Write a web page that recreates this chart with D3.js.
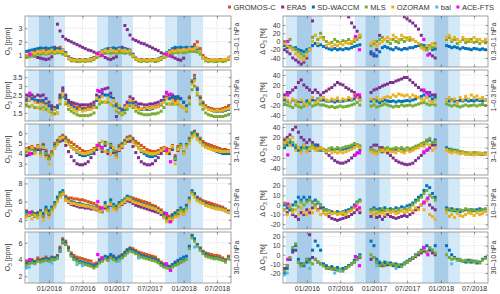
<!DOCTYPE html>
<html>
<head>
<meta charset="utf-8">
<script src="https://cdn.jsdelivr.net/npm/d3@7"></script>
<style>
  body { margin: 0; background: #fff; }
  text { font-family: "Liberation Sans", Arial, sans-serif; }
</style>
</head>
<body>
<div id="chart"></div>
<script>
const X = null;

// series shown in the legend
const seriesNames = ['GROMOS-C', 'ERA5', 'SD-WACCM', 'MLS', 'OZORAM', 'bal', 'ACE-FTS'];
const seriesColors = ['#D95319', '#7E2F8E', '#0072BD', '#77AC30', '#EDB120', '#4DBEEE', '#FF00FF'];

const levelLabels = ['0.3\u20130.1 hPa', '1\u20130.3 hPa', '3\u20131 hPa', '10\u20133 hPa', '30\u201310 hPa'];

// winter periods: light start, dark start, dark end, light end
const winters = [
  ['2015-09-09', '2015-11-08', '2016-01-28', '2016-03-28'],
  ['2016-09-18', '2016-11-16', '2017-01-31', '2017-04-01'],
  ['2017-09-22', '2017-11-26', '2018-02-10', '2018-04-16']
];

// values every half month (1st and 16th), Sep 2015 .. Sep 2018 -> 73 values

// ---------- O3 [ppm] ----------
// 0.3-0.1 hPa
const gromos1 = [1.0,1.1,1.2,1.3,1.4,1.3,1.5,1.4, 1.4,1.5,1.4,1.5,1.6,1.4,
  1.2,0.9,0.75,0.7,0.7,0.65,0.7,0.7,0.7,0.75,0.8, 1.0,1.1,1.3,X,X,X,1.5, 1.4,1.5,1.4,1.5,1.4,1.3,
  1.0,0.8,0.7,0.7,0.65,0.7,0.7,0.65,0.7,0.7,0.8, 0.9,1.1,1.2,1.4,1.5,1.4,X,X,X,
  1.5,1.6,1.8,2.0,1.5,1.0,0.8,0.7,0.7, 0.65,0.65,0.7,0.7,0.7,0.8];
const era5_1 = [0.95,1.0,1.0,0.95,0.85,0.8,0.75,0.7, 0.75,0.9,1.6,3.3,2.8,2.4,
  2.2,2.1,2.0,1.9,1.8,1.7,1.6,1.5,1.4,1.35,1.25, 1.15,1.05,1.0,0.85,0.75,0.7,0.8, 0.9,1.3,1.6,3.2,2.9,2.5,
  2.2,2.1,2.0,1.9,1.85,1.75,1.65,1.55,1.45,1.35,1.2, 1.1,1.0,1.0,0.9,0.8,0.7,0.65,0.8,X,
  X,X,X,X,X,X,X,X,X, X,X,X,X,X,X];
const waccm1 = [1.3,1.35,1.4,1.45,1.5,1.55,1.5,1.55, 1.5,1.55,1.5,1.5,1.45,1.4,
  1.2,0.85,0.75,0.7,0.7,0.7,0.7,0.7,0.7,0.75,0.85, 1.0,1.2,1.35,1.45,1.5,1.5,1.55, 1.5,1.55,1.5,1.5,1.45,1.4,
  1.1,0.8,0.7,0.7,0.7,0.7,0.7,0.7,0.7,0.75,0.85, 1.0,1.2,1.35,1.5,1.6,1.55,1.6,1.55,1.6,
  1.55,1.6,1.55,1.5,1.3,0.85,0.7,0.65,0.65, 0.65,0.65,0.65,0.65,0.7,0.75];
const mls1 = [0.85,0.9,0.95,1.0,1.1,1.1,1.15,1.1, 1.15,1.2,1.15,1.2,1.2,1.1,
  1.0,0.75,0.6,0.6,0.55,0.55,0.6,0.55,0.6,0.6,0.7, 0.85,0.95,1.05,1.15,1.2,1.15,1.2, 1.15,1.2,1.2,1.15,1.2,1.1,
  0.9,0.7,0.6,0.55,0.6,0.55,0.6,0.6,0.55,0.6,0.7, 0.85,0.95,1.05,1.15,1.2,1.2,1.25,1.2,1.25,
  1.3,1.3,1.3,1.25,1.1,0.8,0.6,0.55,0.6, 0.55,0.55,0.6,0.55,0.6,0.7];
const oram1 = [1.0,1.1,1.2,1.15,1.3,1.25,1.35,1.2, 1.3,1.4,1.25,1.35,1.3,1.4,
  1.1,0.8,0.7,0.65,0.7,0.65,0.7,0.65,0.7,0.7,0.8, 1.0,1.15,1.3,1.4,1.3,1.45,1.35, 1.3,1.45,1.35,1.4,1.3,1.35,
  1.0,0.75,0.7,0.65,0.7,0.65,0.7,0.65,0.7,0.7,0.8, 0.95,1.15,1.25,1.35,1.3,1.4,1.35,1.45,1.4,
  1.5,1.45,1.5,1.6,1.3,0.85,0.7,0.65,0.7, 0.65,0.7,0.65,0.7,0.7,0.8];

// 1-0.3 hPa
const gromos2 = [2.3,2.2,2.3,2.2,2.1,2.2,2.1,2.0, 1.9,1.8,1.7,1.8,2.4,2.8,
  2.4,2.1,2.0,1.9,1.8,1.8,1.75,1.75,1.8,1.85,1.95, 2.2,2.4,2.5,X,X,X,2.3, 2.0,1.8,1.7,1.8,2.0,2.2,
  2.1,1.9,1.8,1.75,1.75,1.75,1.8,1.8,1.85,1.9,2.0, 2.2,2.4,2.3,2.3,2.2,2.3,X,X,X,
  2.4,3.3,3.6,2.9,2.4,2.1,1.9,1.8,1.75, 1.7,1.7,1.7,1.75,1.8,1.9];
const era5_2 = [2.5,2.45,2.5,2.4,2.5,2.45,2.5,2.3, 2.1,1.9,1.8,1.9,2.5,2.9,
  2.5,2.2,2.1,2.05,2.0,1.95,1.95,1.95,1.95,2.0,2.1, 2.5,2.7,2.8,2.85,2.9,2.6,2.2, 1.3,1.8,1.7,1.9,2.1,2.4,
  2.3,2.1,2.0,2.0,1.95,1.95,2.0,2.0,2.05,2.1,2.2, 2.4,2.6,2.5,2.5,2.4,2.4,2.3,2.1,X,
  X,X,X,X,X,X,X,X,X, X,X,X,X,X,X];
const waccm2 = [2.2,2.2,2.3,2.2,2.2,2.1,2.2,2.0, 1.9,1.7,1.7,1.8,2.3,2.7,
  2.3,2.0,1.9,1.8,1.7,1.7,1.7,1.7,1.7,1.75,1.85, 2.2,2.4,2.6,2.5,2.5,2.4,2.3, 1.9,1.8,1.6,1.7,1.9,2.1,
  2.0,1.85,1.75,1.7,1.7,1.7,1.7,1.75,1.8,1.85,1.95, 2.2,2.3,2.3,2.4,2.3,2.4,2.3,2.1,1.9,
  2.3,3.2,3.4,2.8,2.3,2.0,1.8,1.7,1.65, 1.6,1.6,1.6,1.6,1.65,1.7];
const mls2 = [1.9,1.85,1.9,1.8,1.8,1.75,1.8,1.7, 1.6,1.5,1.45,1.5,2.0,2.4,
  2.0,1.7,1.6,1.5,1.4,1.35,1.35,1.35,1.35,1.4,1.5, 1.8,2.0,2.1,2.1,2.1,2.0,1.9, 1.6,1.5,1.4,1.5,1.7,1.9,
  1.8,1.6,1.5,1.45,1.4,1.4,1.4,1.45,1.45,1.5,1.6, 1.8,2.0,2.0,2.0,2.0,2.0,1.9,1.8,1.6,
  2.0,2.8,3.0,2.5,2.0,1.7,1.5,1.4,1.35, 1.3,1.3,1.3,1.3,1.35,1.4];
const oram2 = [2.0,2.2,1.9,2.1,1.8,2.0,1.7,1.9, 1.6,1.4,1.7,1.5,2.2,2.6,
  2.1,1.9,1.8,1.7,1.6,1.7,1.6,1.65,1.7,1.7,1.8, 2.3,2.2,2.4,2.1,2.3,2.0,2.2, 1.7,1.9,1.5,1.8,1.9,2.2,
  1.9,1.8,1.7,1.75,1.7,1.8,1.75,1.8,1.8,1.85,2.0, 2.1,2.3,2.0,2.2,2.0,2.1,1.9,1.8,1.7,
  2.2,3.1,3.3,2.6,2.2,1.9,1.8,1.7,1.65, 1.6,1.65,1.6,1.65,1.7,1.75];

// 3-1 hPa
const gromos3 = [4.5,4.6,4.7,4.5,4.8,4.4,4.9,4.3, 3.8,4.2,5.0,5.3,5.6,5.8,
  5.6,5.3,5.1,4.9,4.7,4.5,4.3,4.2,4.2,4.3,4.5, 4.8,5.0,4.6,X,X,X,4.5, 4.2,4.8,5.0,5.3,5.6,5.7,
  5.5,5.2,5.0,4.8,4.6,4.4,4.3,4.2,4.2,4.3,4.5, 4.6,4.5,4.4,4.8,3.8,4.7,X,X,X,
  5.5,6.0,6.2,5.9,5.5,5.2,5.0,4.9,4.8, 4.7,4.6,4.5,4.4,4.4,4.3];
const era5_3 = [3.8,3.9,4.0,4.1,4.4,4.0,4.5,3.9, 3.5,3.9,4.6,5.0,5.2,5.3,
  4.8,4.2,3.7,3.3,3.0,2.9,2.9,3.0,3.2,3.6,4.0, 4.4,4.6,4.2,4.8,4.0,4.6,4.1, 3.7,4.3,4.6,5.0,5.2,5.2,
  4.7,4.1,3.6,3.2,3.0,2.9,2.9,3.0,3.3,3.6,4.0, 4.3,4.2,4.0,4.4,3.4,4.3,4.6,4.0,X,
  X,X,X,X,X,X,X,X,X, X,X,X,X,X,X];
const waccm3 = [4.3,4.4,4.5,4.3,4.7,4.2,4.8,4.1, 3.6,4.0,4.8,5.2,5.5,5.7,
  5.4,5.0,4.7,4.4,4.1,3.9,3.8,3.8,3.9,4.0,4.3, 4.6,4.9,4.4,5.1,4.3,4.9,4.4, 4.0,4.6,4.9,5.2,5.5,5.6,
  5.3,4.9,4.5,4.2,4.0,3.8,3.7,3.7,3.8,4.0,4.3, 4.4,4.3,4.2,4.6,3.6,4.5,4.9,4.2,4.9,
  5.4,6.0,6.1,5.8,5.3,5.0,4.7,4.5,4.4, 4.3,4.2,4.1,4.0,4.0,4.0];
const mls3 = [4.2,4.3,4.4,4.2,4.6,4.1,4.7,4.0, 3.5,4.0,4.7,5.1,5.4,5.6,
  5.3,5.0,4.7,4.5,4.3,4.1,4.0,4.0,4.0,4.1,4.3, 4.6,4.9,4.4,5.0,4.2,4.8,4.3, 3.9,4.5,4.8,5.1,5.4,5.5,
  5.2,4.9,4.6,4.4,4.2,4.1,4.0,3.9,4.0,4.1,4.3, 4.4,4.3,4.2,4.6,3.5,4.5,4.8,4.2,4.8,
  5.3,5.8,6.0,5.6,5.2,4.9,4.7,4.6,4.5, 4.4,4.3,4.3,4.2,4.2,4.2];
const oram3 = [4.4,4.2,4.6,4.0,4.7,3.8,4.6,3.6, 3.0,3.8,4.5,4.9,5.5,5.6,
  5.2,4.9,4.6,4.4,4.2,4.1,4.0,4.0,4.1,4.2,4.4, 4.8,4.5,5.2,4.2,5.0,3.9,4.6, 3.6,4.4,4.7,5.0,5.4,5.5,
  5.1,4.8,4.5,4.3,4.2,4.1,4.0,4.0,4.0,4.1,4.3, 4.5,4.0,4.3,4.7,3.0,4.4,4.6,4.0,4.6,
  5.0,5.6,5.8,5.4,5.1,4.8,4.6,4.5,4.4, 4.3,4.3,4.2,4.2,4.2,4.2];

// 10-3 hPa
const gromos4 = [5.0,4.8,4.9,4.7,4.8,5.0,4.6,5.2, 4.8,5.3,5.8,6.3,6.8,7.0,
  6.6,6.4,6.4,6.3,6.3,6.2,6.2,6.1,6.0,5.9,5.8, 5.6,5.4,5.3,X,X,X,5.6, 5.4,5.8,6.0,6.2,6.5,6.4,
  6.4,6.3,6.2,6.1,6.0,5.9,5.8,5.6,5.5,5.3,5.1, 4.8,4.5,4.4,4.6,4.8,5.0,X,X,X,
  6.2,7.0,6.8,6.5,6.3,6.1,6.0,5.9,5.8, 5.7,5.6,5.5,5.4,5.2,5.0];
const era5_4 = [4.6,4.5,4.6,4.4,4.6,4.8,4.4,5.0, 4.6,5.1,5.6,6.1,6.6,6.8,
  6.2,5.9,5.7,5.6,5.5,5.4,5.4,5.3,5.3,5.2,5.2, 5.1,5.0,4.9,5.3,5.1,5.6,5.3, 5.1,5.5,5.7,5.9,6.1,6.0,
  5.8,5.6,5.5,5.4,5.3,5.2,5.1,5.0,4.9,4.8,4.6, 4.3,4.0,3.9,4.2,4.4,4.6,4.8,4.6,X,
  X,X,X,X,X,X,X,X,X, X,X,X,X,X,X];
const waccm4 = [4.9,4.7,4.8,4.6,4.7,5.0,4.7,5.4, 5.0,5.4,5.9,6.5,7.0,7.2,
  6.4,6.1,6.0,5.9,5.8,5.8,5.7,5.6,5.6,5.5,5.4, 5.3,5.1,5.0,5.9,5.4,6.2,5.7, 5.5,5.9,6.1,6.3,6.6,6.5,
  6.1,6.0,5.9,5.8,5.7,5.6,5.5,5.4,5.3,5.1,4.9, 4.6,4.2,4.1,4.5,4.7,5.0,5.3,5.1,5.6,
  6.4,7.2,6.9,6.4,6.1,5.9,5.8,5.6,5.5, 5.4,5.3,5.3,5.2,5.0,4.9];
const mls4 = [4.6,4.5,4.6,4.4,4.5,4.8,4.4,5.1, 4.7,5.2,5.7,6.2,6.8,7.0,
  6.3,6.0,5.9,5.8,5.7,5.7,5.6,5.6,5.5,5.4,5.3, 5.2,5.0,4.9,5.6,5.2,5.9,5.5, 5.3,5.7,6.0,6.2,6.4,6.4,
  6.0,5.9,5.8,5.7,5.6,5.5,5.4,5.3,5.2,5.0,4.8, 4.4,4.0,3.8,4.2,4.5,4.8,5.1,4.9,5.3,
  6.2,7.0,6.6,6.2,6.0,5.8,5.6,5.5,5.4, 5.3,5.3,5.2,5.1,5.0,4.8];
const oram4 = [4.3,4.6,4.1,4.5,4.2,4.7,4.0,4.8, 4.3,4.9,5.4,6.0,6.5,6.8,
  6.2,6.0,5.8,5.8,5.7,5.6,5.6,5.5,5.5,5.4,5.3, 5.2,4.9,5.1,5.5,5.0,5.7,5.2, 5.0,5.5,5.8,6.0,6.3,6.2,
  6.0,5.9,5.8,5.7,5.6,5.5,5.4,5.3,5.2,5.0,4.8, 4.2,3.8,4.1,4.0,4.3,4.4,4.8,4.6,5.0,
  6.0,6.8,6.5,6.1,5.9,5.8,5.6,5.5,5.4, 5.3,5.2,5.2,5.1,5.0,4.8];

// 30-10 hPa
const gromos5 = [3.8,3.9,4.0,3.8,4.2,4.0,4.1,4.3, 4.1,4.3,4.2,4.5,5.5,6.5,
  6.2,5.5,4.8,4.5,4.3,4.2,4.1,4.0,3.9,3.8,3.5, 3.6,4.0,4.2,X,X,X,4.4, 4.2,4.4,4.6,4.9,5.2,5.4,
  5.3,5.1,4.9,4.8,4.7,4.6,4.5,4.4,4.3,4.0,3.7, 3.5,3.3,3.2,3.4,3.6,3.7,X,X,X,
  5.5,6.8,6.4,5.8,5.4,5.0,4.8,4.7,4.6, 4.5,4.5,4.4,4.2,4.0,4.4];
const era5_5 = [3.5,3.6,3.7,3.6,3.9,3.8,3.9,4.0, 3.9,4.0,4.0,4.2,5.0,6.0,
  5.8,5.2,4.5,4.1,3.9,3.7,3.6,3.5,3.4,3.3,3.2, 3.3,3.7,3.9,4.2,4.0,4.3,4.1, 3.9,4.1,4.3,4.6,4.9,5.1,
  5.0,4.8,4.6,4.4,4.3,4.2,4.1,4.0,3.9,3.7,3.4, 3.2,3.1,3.0,3.2,3.4,3.5,3.7,3.9,X,
  X,X,X,X,X,X,X,X,X, X,X,X,X,X,X];
const waccm5 = [3.4,3.6,3.8,3.7,3.9,3.8,4.0,4.1, 4.0,4.2,4.2,4.4,5.3,6.3,
  6.0,5.3,4.6,4.2,4.0,3.8,3.7,3.6,3.5,3.4,3.2, 3.4,3.9,4.1,4.4,4.3,4.6,4.4, 4.1,4.3,4.5,4.8,5.1,5.3,
  5.1,4.9,4.7,4.5,4.4,4.3,4.2,4.1,4.0,3.8,3.5, 3.3,3.2,3.1,3.4,3.7,3.9,4.1,4.3,4.4,
  5.6,6.9,6.5,5.8,5.3,4.9,4.6,4.4,4.3, 4.2,4.2,4.1,4.0,3.8,4.2];
const mls5 = [3.3,3.5,3.6,3.5,3.8,3.7,3.8,3.9, 3.8,4.0,4.0,4.2,5.1,6.1,
  5.8,5.1,4.4,4.0,3.8,3.6,3.5,3.4,3.3,3.2,3.0, 3.2,3.6,3.8,4.1,3.9,4.2,4.0, 3.8,4.0,4.2,4.5,4.8,5.0,
  4.9,4.7,4.5,4.3,4.2,4.1,4.0,3.9,3.8,3.6,3.3, 3.1,3.0,2.9,3.1,3.3,3.5,3.7,3.8,4.0,
  5.3,6.6,6.2,5.6,5.1,4.7,4.4,4.3,4.2, 4.1,4.1,4.0,3.9,3.7,4.1];

// ---------- Delta O3 [%] ----------
const era5_r1 = [-20,-25,-30,-40,-45,-50,-55,-50, -40,-20,50,90,90,90,
  90,90,90,90,90,90,90,90,75,60,45, 35,25,15,X,X,X,-30, -35,-20,15,90,90,90,
  90,90,90,90,90,60,55,50,45,38,30, 15,-10,-20,-30,-35,-40,X,X,X,
  X,X,X,X,X,X,X,X,X, X,X,X,X,X,X];
const waccm_r1 = [-10,-15,-12,-18,-15,-20,-22,-25, -20,-18,-10,-5,-10,-8,
  -12,-15,-18,-20,-17,-20,-18,-20,-17,-18,-15, -12,-10,-8,X,X,X,-25, -30,-35,-25,-15,-12,-15,
  -18,-20,-15,-18,-20,-17,-18,-15,-15,-12,-10, -8,-10,-12,-15,-20,-18,X,X,X,
  -10,-12,-15,-13,-15,-18,-15,-17,-18, -20,-17,-18,-20,-18,-20];
const mls_r1 = [0,-10,5,-15,-20,-25,-30,-35, -25,-20,10,15,5,20,
  10,0,-5,-2,5,0,-3,2,0,5,-5, 0,5,10,X,X,X,-10, -5,0,5,10,5,0,
  -5,5,0,-3,5,0,8,3,5,0,-5, -10,-15,-20,-10,-15,-5,X,X,X,
  5,10,0,5,-5,0,5,-3,0, 5,-2,0,-5,0,-3];
const oram_r1 = [-5,-10,-15,-20,-30,-35,-40,-45, -35,-20,0,15,-5,10,
  5,-10,-5,-12,-8,-10,-5,-8,-3,-5,0, 5,10,15,X,X,X,-5, 0,-10,-5,0,5,10,
  5,15,10,5,15,10,5,10,5,0,-5, -15,-20,-10,-15,-5,-10,X,X,X,
  10,15,5,10,5,0,10,5,5, 0,10,5,5,0,5];

const era5_r2 = [0,5,5,10,15,25,30,20, 15,10,5,10,5,0,
  5,8,12,15,20,25,22,20,15,12,8, 5,0,-5,X,X,X,5, 10,12,15,18,20,22,
  25,25,28,30,32,35,35,30,25,20,15, 10,8,5,5,0,0,X,X,X,
  X,X,X,X,X,X,X,X,X, X,X,X,X,X,X];
const waccm_r2 = [-10,-12,-15,-10,-12,-15,-13,-15, -12,-15,-10,-12,-8,-10,
  -10,-12,-13,-12,-14,-12,-13,-12,-11,-10,-10, -8,-5,-10,X,X,X,-12, -10,-12,-15,-12,-10,-12,
  -13,-12,-14,-12,-13,-12,-11,-12,-10,-8,-5, -3,0,-5,-2,-8,-5,X,X,X,
  -10,-12,-10,-12,-13,-11,-12,-10,-12, -11,-12,-10,-11,-12,-10];
const mls_r2 = [-18,-20,-22,-25,-20,-23,-25,-22, -20,-18,-22,-20,-18,-20,
  -20,-22,-24,-23,-25,-24,-22,-24,-23,-22,-20, -18,-15,-20,X,X,X,-22, -20,-24,-22,-20,-18,-20,
  -22,-24,-22,-23,-20,-22,-21,-20,-22,-20,-18, -16,-15,-18,-20,-18,-20,X,X,X,
  -18,-20,-22,-20,-22,-24,-22,-20,-22, -21,-20,-22,-20,-19,-21];
const oram_r2 = [-5,-10,-15,-8,-12,-18,-10,-15, -20,-12,-5,-15,-10,-8,
  -5,-10,-12,-8,-10,-6,-12,-8,-10,-5,-8, 0,-5,-10,X,X,X,-8, -12,-5,-10,-8,-5,-3,
  -5,0,-3,2,0,-2,0,-5,0,-3,-5, -8,-10,-5,-12,-15,-10,X,X,X,
  -10,-5,-12,-8,-15,-5,-10,-3,-8, 0,-5,-2,-8,-5,-10];

const era5_r3 = [15,20,25,35,40,30,20,15, 10,15,10,5,5,0,
  -5,-10,-15,-20,-25,-28,-30,-30,-28,-25,-20, -15,-10,-5,X,X,X,0, 5,5,0,0,-5,-10,
  -15,-20,-25,-28,-30,-32,-33,-32,-30,-25,-20, -15,-10,-5,0,5,5,X,X,X,
  X,X,X,X,X,X,X,X,X, X,X,X,X,X,X];
const waccm_r3 = [0,5,10,5,0,-5,0,5, 0,-5,0,5,0,-5,
  -5,-8,-5,-3,-5,-2,-5,-3,-2,0,2, 5,5,3,X,X,X,-5, -8,-10,-5,-8,-5,-3,
  -5,-5,-3,-5,-2,-5,-3,-5,-3,0,2, 5,8,12,15,10,15,X,X,X,
  0,-3,-5,-5,-8,-8,-10,-10,-12, -12,-10,-12,-12,-13,-12];
const mls_r3 = [5,10,15,10,5,0,-5,0, -5,0,5,0,-5,-3,
  -3,-5,-2,0,-3,0,-2,0,2,3,5, 8,6,3,X,X,X,-3, -5,-8,-3,-5,-2,0,
  -3,-2,0,-2,0,-3,0,-2,0,3,5, 8,10,15,18,10,12,X,X,X,
  -3,-5,-3,-7,-5,-8,-8,-10,-10, -12,-10,-10,-12,-11,-10];
const oram_r3 = [10,15,5,20,-5,0,-10,5, -8,-3,0,-5,-2,0,
  -5,-8,-5,-10,-8,-10,-8,-10,-8,-5,-3, 0,3,0,X,X,X,-8, -10,-12,-8,-5,-8,-5,
  -8,-8,-10,-5,-8,-10,-5,-8,-5,-2,0, 5,3,8,5,-5,0,X,X,X,
  -5,-8,-10,-8,-10,-12,-10,-13,-12, -10,-14,-12,-10,-12,-13];

const era5_r4 = [-5,-8,-5,-10,-12,-15,-8,-10, -5,-8,-3,0,-5,-3,
  -8,-10,-12,-14,-15,-16,-15,-14,-13,-12,-10, -8,-5,-8,X,X,X,-12, -10,-13,-12,-15,-12,-10,
  -12,-13,-14,-13,-12,-11,-12,-10,-8,-5,-3, 0,3,5,0,-3,-5,X,X,X,
  X,X,X,X,X,X,X,X,X, X,X,X,X,X,X];
const waccm_r4 = [0,-3,-5,0,3,8,5,8, 5,8,3,5,2,0,
  -3,-5,-6,-7,-8,-7,-8,-7,-6,-5,-3, 0,3,5,X,X,X,-5, -3,-5,-4,-6,-3,-5,
  -4,-5,-3,-4,-2,-3,-1,0,2,5,8, 10,15,20,18,12,8,X,X,X,
  -3,-5,-4,-6,-5,-7,-6,-5,-6, -5,-6,-5,-4,-5,-6];
const mls_r4 = [2,0,-3,-5,0,-2,3,0, 3,5,2,0,3,0,
  -5,-6,-8,-9,-8,-9,-8,-10,-8,-7,-5, -2,2,4,X,X,X,-6, -5,-8,-6,-4,-6,-5,
  -6,-5,-7,-5,-6,-4,-5,-3,0,3,5, 8,12,15,10,8,5,X,X,X,
  -5,-4,-6,-5,-7,-5,-6,-4,-5, -6,-5,-7,-6,-5,-4];
const oram_r4 = [-5,-10,0,-8,-5,-10,-3,-8, -10,-5,-8,-3,-6,-10,
  -8,-10,-7,-9,-8,-10,-9,-8,-10,-7,-6, -3,0,-5,X,X,X,-8, -10,-7,-9,-8,-10,-6,
  -8,-7,-9,-8,-6,-8,-7,-5,-6,-3,-5, 0,-5,5,-10,-12,-15,X,X,X,
  -8,-12,-10,-13,-9,-11,-12,-10,-8, -9,-11,-8,-10,-9,-7];

const era5_r5 = [-15,-12,-5,3,5,-8,-12,-10, -5,22,-3,-5,-8,-10,
  -12,-13,-15,-14,-16,-15,-17,-16,-15,-12,-10, -8,-5,-3,X,X,X,-5, -3,-8,-10,-12,-9,-11,
  -10,-12,-11,-13,-12,-10,-8,-6,-4,-2,0, 2,4,3,5,2,0,X,X,X,
  X,X,X,X,X,X,X,X,X, X,X,X,X,X,X];
const waccm_r5 = [-20,-15,-5,5,10,-5,-10,-12, -8,-5,5,15,10,5,
  -10,-12,-14,-13,-15,-14,-16,-15,-14,-12,-10, -6,-3,0,X,X,X,15, 10,-5,-8,-10,-8,-10,
  -9,-11,-10,-12,-11,-9,-7,-5,-3,0,2, 5,8,10,7,5,10,X,X,X,
  10,5,0,-3,-5,-6,-7,-8,-6, -8,-7,-9,-8,-5,-3];
const mls_r5 = [-18,-12,-3,8,12,-8,-12,-10, -5,-8,-10,-5,-8,-10,
  -12,-15,-14,-16,-15,-17,-16,-18,-15,-13,-10, -8,-5,-2,X,X,X,0, -3,-8,-12,-10,-12,-9,
  -11,-10,-12,-11,-13,-10,-8,-6,-3,-1,2, 4,6,3,8,5,2,X,X,X,
  0,-3,-5,-4,-6,-5,-7,-6,-8, -6,-8,-7,-9,-6,-4];

// sparse series
const aceDates = ['2015-09-19', '2016-09-22', '2016-10-14', '2017-09-30', '2017-10-22'];
const aceLeft = [[1.1, 1.15, 1.0, 1.1, 0.95], [2.6, 2.75, 2.7, 2.65, 2.55], [4.0, 4.8, 4.6, 4.3, 3.2],
  [4.8, 6.0, 5.3, 4.7, 3.8], [4.0, 4.6, 4.2, 3.5, 2.7]];
const aceRight = [[0, 12, -20, 5, -33], [0, -2, 0, 10, 2], [-14, -14, -10, -8, -4],
  [1, -1, -3, 2, 7], [-5, -2, -12, 8, 0]];
const balDates = ['2015-09-01', '2015-09-16', '2016-01-16', '2016-06-01', '2016-07-01', '2017-01-16', '2017-05-01', '2018-03-01'];
const balLeft5 = [3.0, 3.1, 3.6, 3.4, 3.3, 3.8, 4.2, 5.5];
const balRight5 = [-22, -20, -15, -20, -18, -12, -15, -10];

// y axes
const leftDomains = [[0.15, 3.9], [1.05, 3.9], [1.9, 6.9], [3.0, 8.6], [1.2, 7.3]];
const leftTicks = [[1, 2, 3], [1.5, 2, 2.5, 3, 3.5], [3, 4, 5, 6], [4, 6, 8], [2, 4, 6]];
const rightDomains = [[-62, 62], [-52, 50], [-53, 46], [-25, 28], [-31, 25]];
const rightTicks = [[-40, -20, 0, 20, 40], [-40, -20, 0, 20, 40], [-40, -20, 0, 20, 40],
  [-20, -10, 0, 10, 20], [-20, -10, 0, 10, 20]];

const leftPanels = [
  [gromos1, era5_1, waccm1, mls1, oram1],
  [gromos2, era5_2, waccm2, mls2, oram2],
  [gromos3, era5_3, waccm3, mls3, oram3],
  [gromos4, era5_4, waccm4, mls4, oram4],
  [gromos5, era5_5, waccm5, mls5, null]
];
const rightPanels = [
  [null, era5_r1, waccm_r1, mls_r1, oram_r1],
  [null, era5_r2, waccm_r2, mls_r2, oram_r2],
  [null, era5_r3, waccm_r3, mls_r3, oram_r3],
  [null, era5_r4, waccm_r4, mls_r4, oram_r4],
  [null, era5_r5, waccm_r5, mls_r5, null]
];

// ---------- drawing ----------
const parse = d3.timeParse('%Y-%m-%d');
const halfMonth = d3.range(73).map(i => new Date(2015, 8 + Math.floor(i / 2), i % 2 ? 16 : 1));
const tDomain = [new Date(2015, 7, 24), new Date(2018, 8, 15)];
const xTicks = d3.timeMonth.every(6).range(new Date(2016, 0, 1), new Date(2018, 7, 1));

const cols = [{x0: 25, x1: 231}, {x0: 283, x1: 488}];
const tops = [16, 70, 124, 178, 232];
const ph = 51;
const ms = 3;
const fs = 7;

const svg = d3.select('#chart').append('svg')
  .attr('width', 500)
  .attr('height', 294);

function drawPanel(c, k, yDom, yTickVals, series, aceVals, balVals) {
  const col = cols[c];
  const top = tops[k];
  const x = d3.scaleTime().domain(tDomain).range([col.x0, col.x1]);
  const y = d3.scaleLinear().domain(yDom).range([top + ph, top]);
  const clipId = `clip-${c}-${k}`;

  svg.append('clipPath').attr('id', clipId)
    .append('rect')
    .attr('x', col.x0).attr('y', top)
    .attr('width', col.x1 - col.x0).attr('height', ph);

  const g = svg.append('g');
  const plot = g.append('g').attr('clip-path', `url(#${clipId})`);

  // grid (under the winter patches)
  plot.append('g').selectAll('line').data(xTicks).join('line')
    .attr('x1', d => x(d)).attr('x2', d => x(d))
    .attr('y1', top).attr('y2', top + ph);
  plot.append('g').selectAll('line').data(yTickVals).join('line')
    .attr('x1', col.x0).attr('x2', col.x1)
    .attr('y1', d => y(d)).attr('y2', d => y(d));
  plot.selectAll('line')
    .attr('stroke', '#c4c4c4')
    .attr('stroke-width', 0.6)
    .attr('stroke-dasharray', '1,1.5');

  // winter periods
  winters.forEach(w => {
    const d = w.map(parse);
    plot.append('rect')
      .attr('x', x(d[0])).attr('y', top)
      .attr('width', x(d[3]) - x(d[0])).attr('height', ph)
      .attr('fill', '#d3e9f8');
    plot.append('rect')
      .attr('x', x(d[1])).attr('y', top)
      .attr('width', x(d[2]) - x(d[1])).attr('height', ph)
      .attr('fill', '#a9cce8');
  });

  // data points
  series.forEach((arr, s) => {
    if (!arr) return;
    const pts = arr.map((v, i) => ({t: halfMonth[i], v: v})).filter(d => d.v !== null);
    plot.append('g')
      .attr('fill', seriesColors[s])
      .selectAll('rect')
      .data(pts)
      .join('rect')
      .attr('x', d => x(d.t) - ms / 2)
      .attr('y', d => y(d.v) - ms / 2)
      .attr('width', ms)
      .attr('height', ms);
  });

  if (balVals) {
    plot.append('g').attr('fill', seriesColors[5])
      .selectAll('rect').data(balVals.map((v, i) => ({t: parse(balDates[i]), v: v})))
      .join('rect')
      .attr('x', d => x(d.t) - ms / 2).attr('y', d => y(d.v) - ms / 2)
      .attr('width', ms).attr('height', ms);
  }
  if (aceVals) {
    plot.append('g').attr('fill', seriesColors[6])
      .selectAll('rect').data(aceVals.map((v, i) => ({t: parse(aceDates[i]), v: v})))
      .join('rect')
      .attr('x', d => x(d.t) - 1.6).attr('y', d => y(d.v) - 1.6)
      .attr('width', 3.2).attr('height', 3.2);
  }

  // box
  g.append('rect')
    .attr('x', col.x0).attr('y', top)
    .attr('width', col.x1 - col.x0).attr('height', ph)
    .attr('fill', 'none')
    .attr('stroke', '#8a8a8a')
    .attr('stroke-width', 0.8);

  // axes with inward ticks
  const axes = [
    g.append('g').attr('transform', `translate(${col.x0},0)`)
      .call(d3.axisLeft(y).tickValues(yTickVals).tickSize(-2.5).tickPadding(2.5).tickFormat(d => String(d))),
    g.append('g').attr('transform', `translate(${col.x1},0)`)
      .call(d3.axisRight(y).tickValues(yTickVals).tickSize(-2.5).tickFormat('')),
    g.append('g').attr('transform', `translate(0,${top})`)
      .call(d3.axisTop(x).tickValues(xTicks).tickSize(-2.5).tickFormat('')),
    g.append('g').attr('transform', `translate(0,${top + ph})`)
      .call(d3.axisBottom(x).tickValues(xTicks).tickSize(-2.5).tickPadding(3.5)
        .tickFormat(k === 4 ? d3.timeFormat('%m/%Y') : ''))
  ];
  axes.forEach(a => {
    a.select('.domain').remove();
    a.selectAll('.tick line').attr('stroke', '#555').attr('stroke-width', 0.6);
    a.selectAll('.tick text')
      .attr('font-size', fs)
      .attr('font-family', '"Liberation Sans", Arial, sans-serif')
      .attr('fill', '#333');
  });

  // pressure range at the right side
  g.append('text')
    .attr('transform', `translate(${col.x1 + 6},${top + ph / 2}) rotate(-90)`)
    .attr('text-anchor', 'middle')
    .attr('dy', '0.35em')
    .attr('font-size', fs)
    .attr('fill', '#333')
    .text(levelLabels[k]);

  // y label
  const yl = g.append('text')
    .attr('transform', `translate(${c === 0 ? 8 : 263},${top + ph / 2}) rotate(-90)`)
    .attr('text-anchor', 'middle')
    .attr('dy', '0.35em')
    .attr('font-size', fs)
    .attr('fill', '#333');
  yl.append('tspan').text(c === 0 ? 'O' : '\u0394 O');
  yl.append('tspan').attr('font-size', 5).attr('dy', 2).text('3');
  yl.append('tspan').attr('dy', -2).text(c === 0 ? ' [ppm]' : ' [%]');
}

for (let k = 0; k < 5; k++) {
  drawPanel(0, k, leftDomains[k], leftTicks[k], leftPanels[k], aceLeft[k], k === 4 ? balLeft5 : null);
  drawPanel(1, k, rightDomains[k], rightTicks[k], rightPanels[k], aceRight[k], k === 4 ? balRight5 : null);
}

// legend across the top right
const legend = svg.append('g').attr('transform', 'translate(0,7)');
const items = legend.selectAll('g').data(seriesNames).join('g');
items.append('rect')
  .attr('y', -1.5).attr('width', 3).attr('height', 3)
  .attr('fill', (d, i) => seriesColors[i]);
items.append('text')
  .attr('x', 5.5)
  .attr('dy', '0.35em')
  .attr('font-size', 7.5)
  .attr('fill', '#333')
  .text(d => d);
const widths = [];
items.each(function() { widths.push(this.querySelector('text').getComputedTextLength() + 5.5); });
const legStart = 228, legEnd = 494;
const gap = (legEnd - legStart - d3.sum(widths)) / (widths.length - 1);
let pos = legStart;
items.attr('transform', (d, i) => {
  const t = `translate(${pos},0)`;
  pos += widths[i] + gap;
  return t;
});
</script>
</body>
</html>
